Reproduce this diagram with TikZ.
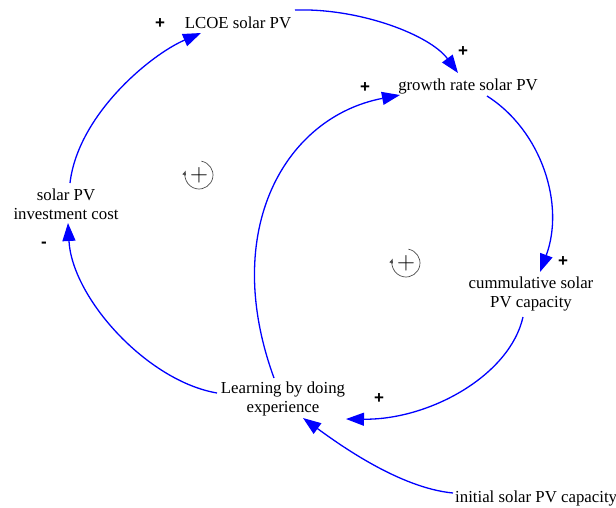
\documentclass[tikz,border=0pt]{standalone}
\usepackage{fontspec}
\setmainfont{Liberation Serif}
\newfontfamily\signfont{Liberation Sans}
\usetikzlibrary{arrows.meta}
\begin{document}
\begin{tikzpicture}[x=1pt,y=-1pt,
  var/.style={inner sep=0pt, align=center, font=\fontsize{16.8}{19}\selectfont},
  link/.style={draw=blue, line width=1.3pt, -{Triangle[length=18pt,width=13pt]}},
  pol/.style={font=\signfont\bfseries\fontsize{17}{18}\selectfont, inner sep=0pt},
  loopsym/.style={draw=black!70, line width=0.7pt, -{Latex[length=5pt,width=4pt]}},
  loopsign/.style={inner sep=0pt, font=\fontsize{24}{24}\selectfont}
]
\useasboundingbox (0,0) rectangle (616,507);

\node[var, anchor=base] (lcoe) at (238,28) {LCOE solar PV};
\node[var, anchor=base] (growth) at (468,90) {growth rate solar PV};
\node[var] (cumm) at (531,294) {cummulative solar\\PV capacity};
\node[var] (inv) at (66,204) {solar PV\\investment cost};
\node[var] (learn) at (283,399) {Learning by doing\\experience};
\node[var, anchor=base west] (init) at (455,502) {initial solar PV capacity};

% connectors
\draw[link] ([shift={(4,-21)}]inv.center) .. controls +(8,-68) and +(-51,22) .. ([shift={(-37,5)}]lcoe.base);
\draw[link] ([shift={(57,-18)}]lcoe.base) .. controls +(65,-2) and +(-28,-38) .. ([shift={(-10,-17)}]growth.base);
\draw[link] ([shift={(19,6)}]growth.base) .. controls +(55,35) and +(25,-67) .. ([shift={(9,-22)}]cumm.center);
\draw[link] ([shift={(-8,23)}]cumm.center) .. controls +(-13,58) and +(84,1) .. ([shift={(63,20)}]learn.center);
\draw[link] ([shift={(-2,-9)}]init.base west) .. controls +(-53,-5) and +(37,27) .. ([shift={(20,19)}]learn.center);
\draw[link] ([shift={(-66,-6)}]learn.center) .. controls +(-70,-12) and +(4,75) .. ([shift={(2,19)}]inv.center);
\draw[link] ([shift={(-9,-21)}]learn.center) .. controls +(-54,-148) and +(-115,22) .. ([shift={(-68,5)}]growth.base);

% polarities
\node[pol] (p1) at (160,24) {+};
\node[pol] (p2) at (463,52) {+};
\node[pol] (p3) at (365,88) {+};
\node[pol] (p4) at (563,262) {+};
\node[pol] (p5) at (379,399) {+};
\node[pol] (p6) at (44,245) {-};

% loop symbols
\coordinate (L1) at (199,175);
\coordinate (L2) at (406,263);
\draw[loopsym] ([shift={(-80:14)}]L1) arc[start angle=-80, end angle=200, radius=14];
\node[loopsign] (s1) at (L1) {$+$};
\draw[loopsym] ([shift={(-80:14)}]L2) arc[start angle=-80, end angle=200, radius=14];
\node[loopsign] (s2) at (L2) {$+$};
\end{tikzpicture}
\end{document}
